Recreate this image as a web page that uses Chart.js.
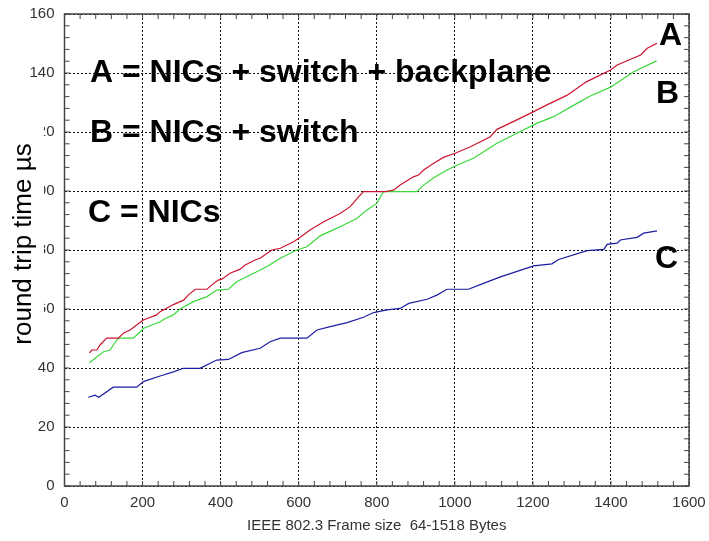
<!DOCTYPE html>
<html>
<head>
<meta charset="utf-8">
<script src="https://cdn.jsdelivr.net/npm/chart.js@4/dist/chart.umd.min.js"></script>
<style>
  html, body { margin: 0; padding: 0; background: #fff; }
  #rtt { display: block; }
</style>
</head>
<body>
<canvas id="rtt" width="709" height="541"></canvas>
<script>
// ── Round trip time vs frame size ──

const xTicks = [0, 200, 400, 600, 800, 1000, 1200, 1400, 1600];
const yTicks = [0, 20, 40, 60, 80, 100, 120, 140, 160];

// A = NICs + switch + backplane
const framesA = [64, 70, 83, 91, 108, 138, 151, 168, 194, 202, 236, 245, 279, 305, 317, 335, 365, 377, 394, 403,
  424, 450, 463, 488, 501, 531, 553, 587, 604, 629, 664, 706, 732, 750, 766, 822, 843, 860, 894, 907,
  920, 946, 971, 1001, 1040, 1091, 1108, 1159, 1202, 1236, 1288, 1337, 1399, 1416, 1476, 1493, 1518];
const rttA = [45.1, 46.1, 46.1, 47.8, 50.1, 50.1, 51.8, 52.9, 55.5, 56.3, 58.0, 59.1, 61.5, 63.0, 64.7, 66.7, 66.7, 68.1, 69.8, 70.1,
  72.1, 73.5, 74.9, 76.6, 77.2, 80.0, 80.6, 82.8, 84.3, 86.8, 89.6, 92.4, 94.7, 97.5, 99.8, 99.8, 100.3, 102.0, 104.8, 105.4,
  107.1, 109.4, 111.4, 112.8, 115.0, 118.4, 120.9, 124.1, 126.9, 129.2, 132.5, 137.0, 141.0, 142.7, 146.1, 148.4, 150.1];

// B = NICs + switch
const framesB = [64, 83, 100, 117, 125, 138, 176, 194, 202, 245, 258, 279, 296, 330, 365, 390, 420, 442, 476, 518,
  553, 595, 621, 655, 698, 749, 775, 800, 817, 903, 920, 946, 980, 1006, 1048, 1108, 1159, 1211, 1253, 1313,
  1347, 1399, 1458, 1517];
const rttB = [41.8, 43.8, 45.5, 46.1, 47.8, 50.1, 50.1, 52.3, 53.4, 55.7, 56.8, 58.0, 60.0, 62.5, 64.2, 66.4, 66.7, 69.3, 71.5, 74.3,
  77.2, 80.0, 81.1, 84.8, 87.4, 90.7, 93.6, 95.8, 99.8, 99.8, 102.0, 104.5, 107.1, 108.8, 111.1, 116.2, 119.6, 123.0, 125.2, 129.7,
  132.2, 135.2, 140.4, 144.1];

// C = NICs
const framesC = [61, 78, 88, 125, 185, 202, 245, 279, 305, 347, 390, 420, 454, 501, 527, 553, 621, 647, 681, 724,
  766, 792, 826, 860, 882, 929, 954, 980, 1035, 1070, 1117, 1202, 1249, 1266, 1339, 1382, 1390, 1416, 1424, 1467,
  1484, 1518];
const rttC = [30.1, 30.8, 30.1, 33.5, 33.5, 35.4, 37.3, 38.7, 39.9, 39.9, 42.7, 42.9, 45.2, 46.7, 48.9, 50.1, 50.1, 52.9, 54.0, 55.4,
  57.2, 58.8, 59.7, 60.2, 61.9, 63.3, 64.7, 66.7, 66.7, 68.5, 70.9, 74.6, 75.3, 76.8, 79.8, 80.2, 81.9, 82.3, 83.4, 84.3,
  85.7, 86.5];

const FONT = '"Liberation Sans", Arial, Helvetica, sans-serif';

// texto em cima do gráfico (posição em px)
const notes = [
  { text: 'A = NICs + switch + backplane', x: 90, y: 82 },
  { text: 'B = NICs + switch', x: 90, y: 142 },
  { text: 'C = NICs', x: 88, y: 222 },
  { text: 'A', x: 659, y: 45 },
  { text: 'B', x: 656, y: 103 },
  { text: 'C', x: 655, y: 268 }
];

const toPoints = (xs, ys) => xs.map((x, i) => ({ x, y: ys[i] }));

// moldura, ticks internos, título do eixo y e anotações
const framePlugin = {
  id: 'frame',
  afterDraw(chart) {
    const { ctx, chartArea: a, scales: { x, y } } = chart;
    ctx.save();

    ctx.strokeStyle = '#444';
    ctx.lineWidth = 1.5;
    ctx.strokeRect(a.left, a.top, a.right - a.left, a.bottom - a.top);

    ctx.lineWidth = 1;
    ctx.beginPath();
    for (let v = 0; v <= 1600; v += 40) {
      const px = x.getPixelForValue(v);
      ctx.moveTo(px, a.bottom); ctx.lineTo(px, a.bottom - 5);
      ctx.moveTo(px, a.top); ctx.lineTo(px, a.top + 5);
    }
    for (let v = 0; v <= 160; v += 4) {
      const py = y.getPixelForValue(v);
      ctx.moveTo(a.left, py); ctx.lineTo(a.left + 5, py);
      ctx.moveTo(a.right, py); ctx.lineTo(a.right - 5, py);
    }
    ctx.stroke();

    // caixa branca do título (cobre parte dos números, como no original)
    ctx.fillStyle = '#fff';
    ctx.fillRect(0, 100, 44, 255);
    ctx.fillStyle = '#000';
    ctx.font = '26px ' + FONT;
    ctx.textAlign = 'center';
    ctx.textBaseline = 'alphabetic';
    ctx.translate(31, 244);
    ctx.rotate(-Math.PI / 2);
    ctx.fillText('round trip time µs', 0, 0);
    ctx.setTransform(1, 0, 0, 1, 0, 0);

    ctx.font = 'bold 32px ' + FONT;
    ctx.textAlign = 'left';
    notes.forEach(n => ctx.fillText(n.text, n.x, n.y));
    ctx.restore();
  }
};

new Chart(document.getElementById('rtt'), {
  type: 'line',
  data: {
    datasets: [
      { label: 'A', data: toPoints(framesA, rttA), borderColor: '#cc1530' },
      { label: 'B', data: toPoints(framesB, rttB), borderColor: '#3ad83a' },
      { label: 'C', data: toPoints(framesC, rttC), borderColor: '#1c1ca0' }
    ]
  },
  options: {
    responsive: false,
    animation: false,
    layout: { padding: { top: 14, right: 20, left: 0, bottom: 0 } },
    elements: {
      point: { radius: 0 },
      line: { borderWidth: 1.2, tension: 0, fill: false }
    },
    plugins: { legend: { display: false }, tooltip: { enabled: false } },
    scales: {
      x: {
        type: 'linear', min: 0, max: 1600,
        afterFit: s => { s.height = 55; s.paddingLeft = 0; s.paddingRight = 0; },
        afterBuildTicks: s => { s.ticks = xTicks.map(v => ({ value: v })); },
        grid: { color: '#111', lineWidth: 1, drawTicks: false },
        border: { display: false, dash: [2, 2] },
        ticks: { padding: 8, color: '#333', font: { family: FONT, size: 15 }, callback: v => String(v) },
        title: {
          display: true, text: 'IEEE 802.3 Frame size  64-1518 Bytes',
          color: '#333', font: { family: FONT, size: 15 }, padding: { top: 0, bottom: 6 }
        }
      },
      y: {
        type: 'linear', min: 0, max: 160,
        afterFit: s => { s.width = 64.5; s.paddingTop = 0; s.paddingBottom = 0; },
        afterBuildTicks: s => { s.ticks = yTicks.map(v => ({ value: v })); },
        grid: { color: '#111', lineWidth: 1, drawTicks: false },
        border: { display: false, dash: [2, 2] },
        ticks: { padding: 10, color: '#333', font: { family: FONT, size: 15 }, callback: v => String(v) }
      }
    }
  },
  plugins: [framePlugin]
});
</script>
</body>
</html>
